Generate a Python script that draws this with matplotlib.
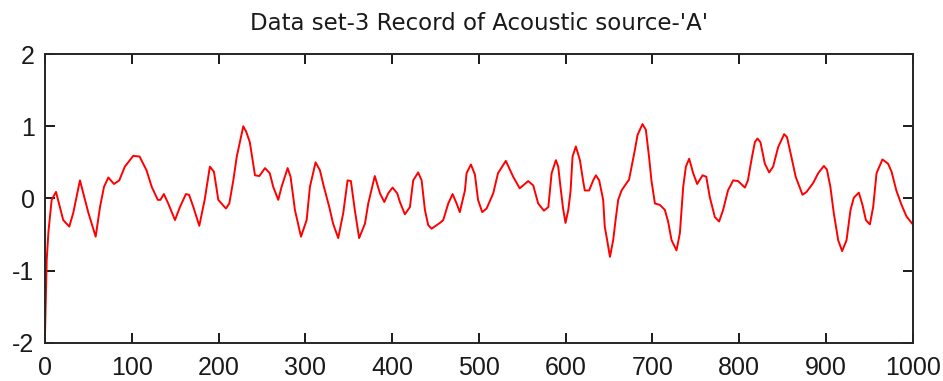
import matplotlib.pyplot as plt

# sample index and recorded amplitude of the acoustic signal
sample = [0, 1, 2, 4, 7.7, 12.7, 21, 28, 32.6, 40.3, 50, 58.4, 63.4, 68, 73, 79.5, 85.6, 92,
          101.7, 109, 117, 123, 130, 133, 137, 142, 149.8, 155.5, 162.4, 166, 171, 177.8,
          184, 190, 194.7, 199.7, 208.5, 212.4, 217, 221, 228.5, 232, 236, 242, 247, 253.5,
          259, 263, 268.8, 272.6, 279.6, 283, 288, 295, 301.5, 305.3, 311.8, 316.8, 321.4,
          327.6, 332, 337.9, 343.7, 348.7, 352.5, 357, 362, 368.7, 372.5, 380, 386, 391,
          395.5, 400.5, 405.9, 409, 414.7, 420.5, 424.3, 430, 434, 437.8, 441.6, 445.5, 455,
          458.9, 464.7, 469.7, 474.3, 478, 483.9, 485.8, 490.8, 495.4, 499, 503.8, 508.9,
          516.5, 522, 531, 539.5, 547, 556.8, 562.6, 568.3, 574.9, 580, 583.8, 588.7, 591.4,
          594, 597, 599.8, 603, 605.6, 607.9, 611.7, 616.4, 620, 622, 627, 631.7, 634.8,
          638.6, 643.2, 645, 647.8, 651, 654.7, 657.5, 660.5, 664.4, 670, 673, 675.9, 679.7,
          682.8, 688.5, 692.4, 696, 698.8, 702.8, 708.5, 714.3, 718, 722, 727.7, 731.6,
          735.4, 738.5, 742.3, 746.9, 751.5, 757.7, 762, 766, 771.9, 776.8, 781.4, 787, 793,
          798.7, 806.5, 810, 814, 818, 821, 824.4, 829.5, 834.5, 839, 844.8, 851.7, 855, 860,
          865, 872.9, 877.5, 885, 891, 897.5, 901, 905, 909, 914, 918.5, 923.6, 928.2, 932,
          937.8, 942, 945.9, 950.5, 954.3, 958.2, 965, 971.5, 975.5, 981, 987, 992.7, 1000]
amplitude = [-1.9, -1.35, -0.85, -0.46, -0.02, 0.09, -0.30, -0.39, -0.2, 0.25, -0.2, -0.53,
             -0.12, 0.16, 0.29, 0.20, 0.25, 0.44, 0.59, 0.58, 0.39, 0.16, -0.02, -0.02, 0.06,
             -0.07, -0.30, -0.12, 0.06, 0.05, -0.12, -0.38, -0.02, 0.44, 0.37, -0.02, -0.14,
             -0.07, 0.25, 0.58, 1.0, 0.92, 0.78, 0.32, 0.31, 0.42, 0.35, 0.16, -0.02, 0.16,
             0.42, 0.30, -0.16, -0.53, -0.30, 0.16, 0.50, 0.39, 0.16, -0.12, -0.35, -0.55,
             -0.2, 0.25, 0.24, -0.16, -0.55, -0.35, -0.07, 0.31, 0.07, -0.05, 0.07, 0.15, 0.07,
             -0.05, -0.22, -0.12, 0.25, 0.36, 0.25, -0.16, -0.37, -0.42, -0.34, -0.30, -0.07,
             0.06, -0.07, -0.19, 0.11, 0.35, 0.47, 0.33, -0.02, -0.19, -0.14, 0.07, 0.35, 0.52,
             0.30, 0.14, 0.24, 0.18, -0.07, -0.17, -0.12, 0.35, 0.53, 0.44, 0.16, -0.14, -0.34,
             -0.16, 0.10, 0.58, 0.72, 0.53, 0.25, 0.11, 0.11, 0.25, 0.32, 0.25, -0.02, -0.39,
             -0.58, -0.81, -0.58, -0.30, -0.02, 0.11, 0.21, 0.26, 0.44, 0.67, 0.88, 1.03, 0.95,
             0.58, 0.25, -0.07, -0.09, -0.16, -0.32, -0.58, -0.72, -0.48, 0.16, 0.44, 0.55,
             0.35, 0.20, 0.32, 0.30, 0.02, -0.26, -0.32, -0.16, 0.11, 0.25, 0.24, 0.15, 0.25,
             0.53, 0.78, 0.83, 0.78, 0.48, 0.36, 0.44, 0.71, 0.89, 0.85, 0.58, 0.30, 0.05, 0.09,
             0.21, 0.35, 0.45, 0.40, 0.16, -0.21, -0.58, -0.73, -0.58, -0.16, 0.01, 0.08, -0.09,
             -0.30, -0.36, -0.12, 0.35, 0.54, 0.48, 0.37, 0.11, -0.09, -0.25, -0.36]

plt.rcParams['font.family'] = ['Liberation Sans Narrow', 'Liberation Sans', 'DejaVu Sans']
plt.rcParams['axes.unicode_minus'] = False

fig = plt.figure(figsize=(9.43, 3.81), dpi=100)
ax = fig.add_axes([0.0477, 0.1005, 0.9203, 0.7575])

ax.plot(sample, amplitude, color='red', linewidth=1.4)

ax.set_xlim(0, 1000)
ax.set_ylim(-2, 2)
ax.set_xticks(range(0, 1001, 100))
ax.set_yticks([-2, -1, 0, 1, 2])
ax.tick_params(direction='in', top=True, right=True, length=7, width=1.4,
               labelsize=18, colors='#1a1a1a')
ax.tick_params(axis='x', pad=9.5)
ax.tick_params(axis='y', pad=7.5)
for s in ax.spines.values():
    s.set_linewidth(1.4)
    s.set_color('#262626')

ax.set_title("Data set-3 Record of Acoustic source-'A'", fontsize=16.5,
             family='DejaVu Sans', color='#1a1a1a', pad=17)

fig.savefig('out.png', dpi=100)
